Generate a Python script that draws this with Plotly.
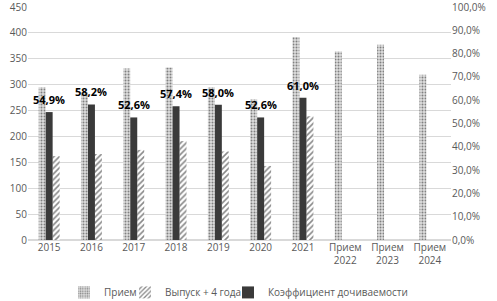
import plotly.graph_objects as go

categories = ["2015", "2016", "2017", "2018", "2019", "2020", "2021",
              "Прием<br>2022", "Прием<br>2023", "Прием<br>2024"]
priem = [295, 285, 331, 333, 295, 272, 392, 364, 377, 319]
vypusk = [162, 166, 174, 191, 171, 143, 239, None, None, None]
koef = [0.549, 0.582, 0.526, 0.574, 0.580, 0.526, 0.610, None, None, None]
koef_labels = ["54,9%", "58,2%", "52,6%", "57,4%", "58,0%", "52,6%", "61,0%", "", "", ""]

FONT = "Open Sans"
TICK = "#595959"
GRID = "#d9d9d9"
BW = 0.165

fig = go.Figure()
fig.add_trace(go.Bar(
    x=categories, y=priem, name="Прием", yaxis="y",
    width=BW, offset=-0.2475,
    marker=dict(color="#ffffff", line=dict(width=0),
                pattern=dict(shape=".", fgcolor="#222222", bgcolor="#dedede",
                             size=3, solidity=0.35)),
    legend="legend",
))
fig.add_trace(go.Bar(
    x=categories, y=vypusk, name="Выпуск + 4 года", yaxis="y",
    width=BW, offset=0.0825,
    marker=dict(color="#ffffff", line=dict(width=0),
                pattern=dict(shape="/", fgcolor="#111111", bgcolor="#ffffff",
                             size=4, solidity=0.4)),
    legend="legend2",
))
fig.add_trace(go.Bar(
    x=categories, y=koef, name="Коэффициент дочиваемости", yaxis="y2",
    width=BW, offset=-0.0825,
    marker=dict(color="#3a3a3a", line=dict(width=0)),
    legend="legend3",
))

for i, (v, t) in enumerate(zip(koef, koef_labels)):
    if v is None:
        continue
    fig.add_annotation(x=i, y=v, xref="x", yref="y2", text=t, showarrow=False,
                       xanchor="center", yanchor="bottom", yshift=3,
                       font=dict(family=FONT, size=11, color="#000000", weight="bold"))

leg_common = dict(orientation="h", xref="container", yref="paper",
                  xanchor="left", y=-0.225, yanchor="middle",
                  font=dict(family=FONT, size=10, color=TICK),
                  itemwidth=30, bgcolor="rgba(0,0,0,0)")

fig.update_layout(
    width=497, height=301,
    margin=dict(l=28, r=46, t=7, b=61, autoexpand=False),
    paper_bgcolor="white", plot_bgcolor="white",
    barmode="group",
    separators=", ",
    font=dict(family=FONT, size=10, color=TICK),
    showlegend=True,
    legend=dict(leg_common, x=64 / 497),
    legend2=dict(leg_common, x=125 / 497),
    legend3=dict(leg_common, x=228 / 497),
    xaxis=dict(type="category", range=[-0.5, 9.5], showgrid=False,
               showline=False, ticks="", automargin=False,
               tickfont=dict(size=10, color=TICK)),
    yaxis=dict(range=[0, 450], dtick=50, showgrid=True, gridcolor=GRID,
               gridwidth=1, zeroline=True, zerolinecolor=GRID, showline=False,
               ticks="", automargin=False, ticklabeloverflow="allow",
               tickfont=dict(size=10, color=TICK)),
    yaxis2=dict(range=[0, 1], dtick=0.1, tickformat=".1%", overlaying="y",
                side="right", showgrid=False, zeroline=False, showline=False,
                ticks="", automargin=False, ticklabeloverflow="allow",
                tickfont=dict(size=10, color=TICK)),
)

fig.write_html("out.html", config={"displayModeBar": False},
               post_script="document.body.style.margin='0';document.body.style.overflow='hidden';")
